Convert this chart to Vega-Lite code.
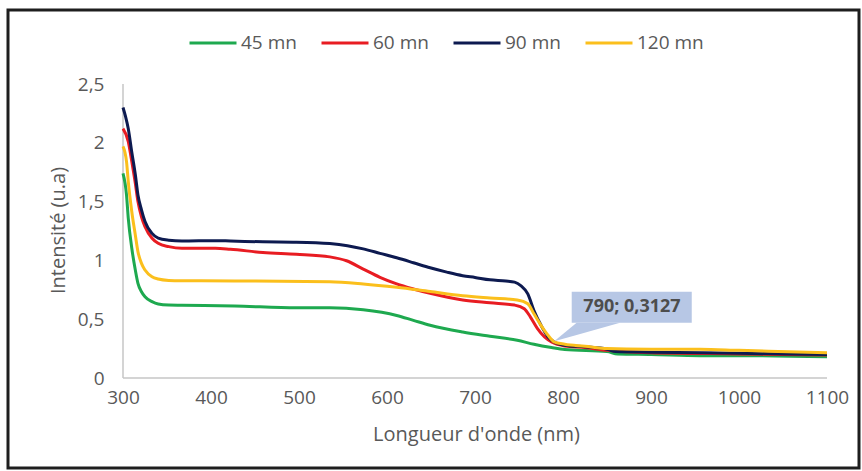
{
  "$schema": "https://vega.github.io/schema/vega-lite/v6.json",
  "autosize": {"type": "none"},
  "padding": {"left": 8, "top": 10, "right": 3, "bottom": 3},
  "width": 851,
  "height": 458,
  "background": "white",
  "config": {
    "view": {"stroke": "#1e1e1e", "strokeWidth": 3},
    "font": "Open Sans",
    "axis": {"grid": false, "ticks": false, "domain": false, "labelColor": "#595959", "titleColor": "#595959", "labelFont": "Open Sans", "titleFont": "Open Sans", "labelFontSize": 19, "titleFontSize": 20, "titleFontWeight": "normal"},
    "legend": {"labelFont": "Open Sans", "labelFontSize": 19, "labelColor": "#595959"}
  },
  "encoding": {
    "x": {"field": "x", "type": "quantitative", "scale": {"domain": [169.32, 1136.36], "nice": false, "zero": false},
      "axis": {"orient": "bottom", "offset": -90, "values": [300, 400, 500, 600, 700, 800, 900, 1000, 1100], "format": "d", "labelPadding": 10, "title": "Longueur d'onde (nm)", "titleX": 468, "titleY": 46, "titleBaseline": "top", "titleAnchor": "middle", "titleAlign": "center"}},
    "y": {"field": "y", "type": "quantitative", "scale": {"domain": [-0.7653, 3.1293], "nice": false, "zero": false},
      "axis": {"orient": "left", "offset": -115, "values": [0, 0.5, 1, 1.5, 2, 2.5], "labelExpr": "replace(format(datum.value, '~g'), '.', ',')", "labelPadding": 19, "labelBaseline": "middle", "title": "Intensité (u.a)", "titleX": -65, "titleY": 220, "titleAngle": -90, "titleBaseline": "middle", "titleAlign": "center"}}
  },
  "layer": [
    {
      "data": {"values": [
        {"x": 300, "y": 0, "x2": 1100, "y2": 0},
        {"x": 300, "y": 0, "x2": 300, "y2": 2.5}
      ]},
      "mark": {"type": "rule", "color": "#c6c6c6", "strokeWidth": 1.5},
      "encoding": {"x2": {"field": "x2"}, "y2": {"field": "y2"}}
    },
    {
      "data": {"values": [
        {"s": "45 mn", "x": 300, "y": 1.74}, {"s": "45 mn", "x": 304, "y": 1.556}, {"s": "45 mn", "x": 306, "y": 1.358}, {"s": "45 mn", "x": 310, "y": 1.103}, {"s": "45 mn", "x": 314, "y": 0.918}, {"s": "45 mn", "x": 317, "y": 0.805}, {"s": "45 mn", "x": 321, "y": 0.734}, {"s": "45 mn", "x": 325, "y": 0.691}, {"s": "45 mn", "x": 333, "y": 0.649}, {"s": "45 mn", "x": 340, "y": 0.629}, {"s": "45 mn", "x": 352, "y": 0.62}, {"s": "45 mn", "x": 367, "y": 0.618}, {"s": "45 mn", "x": 427, "y": 0.612}, {"s": "45 mn", "x": 497, "y": 0.597}, {"s": "45 mn", "x": 535, "y": 0.597}, {"s": "45 mn", "x": 573, "y": 0.58}, {"s": "45 mn", "x": 611, "y": 0.532}, {"s": "45 mn", "x": 630, "y": 0.49}, {"s": "45 mn", "x": 649, "y": 0.448}, {"s": "45 mn", "x": 686, "y": 0.391}, {"s": "45 mn", "x": 717, "y": 0.355}, {"s": "45 mn", "x": 748, "y": 0.321}, {"s": "45 mn", "x": 767, "y": 0.287}, {"s": "45 mn", "x": 787, "y": 0.259}, {"s": "45 mn", "x": 802, "y": 0.242}, {"s": "45 mn", "x": 850, "y": 0.225}, {"s": "45 mn", "x": 862, "y": 0.205}, {"s": "45 mn", "x": 900, "y": 0.2}, {"s": "45 mn", "x": 956, "y": 0.19}, {"s": "45 mn", "x": 1000, "y": 0.19}, {"s": "45 mn", "x": 1100, "y": 0.18},
        {"s": "60 mn", "x": 300, "y": 2.12}, {"s": "60 mn", "x": 306, "y": 2.01}, {"s": "60 mn", "x": 310, "y": 1.84}, {"s": "60 mn", "x": 314, "y": 1.655}, {"s": "60 mn", "x": 317, "y": 1.5}, {"s": "60 mn", "x": 321, "y": 1.37}, {"s": "60 mn", "x": 325, "y": 1.287}, {"s": "60 mn", "x": 333, "y": 1.188}, {"s": "60 mn", "x": 340, "y": 1.145}, {"s": "60 mn", "x": 352, "y": 1.117}, {"s": "60 mn", "x": 367, "y": 1.103}, {"s": "60 mn", "x": 405, "y": 1.103}, {"s": "60 mn", "x": 422, "y": 1.095}, {"s": "60 mn", "x": 459, "y": 1.067}, {"s": "60 mn", "x": 497, "y": 1.053}, {"s": "60 mn", "x": 535, "y": 1.03}, {"s": "60 mn", "x": 554, "y": 0.997}, {"s": "60 mn", "x": 573, "y": 0.926}, {"s": "60 mn", "x": 592, "y": 0.856}, {"s": "60 mn", "x": 611, "y": 0.8}, {"s": "60 mn", "x": 630, "y": 0.757}, {"s": "60 mn", "x": 649, "y": 0.72}, {"s": "60 mn", "x": 686, "y": 0.664}, {"s": "60 mn", "x": 717, "y": 0.64}, {"s": "60 mn", "x": 745, "y": 0.62}, {"s": "60 mn", "x": 756, "y": 0.589}, {"s": "60 mn", "x": 763, "y": 0.518}, {"s": "60 mn", "x": 771, "y": 0.42}, {"s": "60 mn", "x": 779, "y": 0.349}, {"s": "60 mn", "x": 787, "y": 0.307}, {"s": "60 mn", "x": 802, "y": 0.273}, {"s": "60 mn", "x": 825, "y": 0.259}, {"s": "60 mn", "x": 850, "y": 0.235}, {"s": "60 mn", "x": 900, "y": 0.215}, {"s": "60 mn", "x": 1000, "y": 0.205}, {"s": "60 mn", "x": 1100, "y": 0.195},
        {"s": "90 mn", "x": 300, "y": 2.3}, {"s": "90 mn", "x": 303, "y": 2.22}, {"s": "90 mn", "x": 306, "y": 2.12}, {"s": "90 mn", "x": 310, "y": 1.92}, {"s": "90 mn", "x": 314, "y": 1.73}, {"s": "90 mn", "x": 317, "y": 1.556}, {"s": "90 mn", "x": 321, "y": 1.43}, {"s": "90 mn", "x": 325, "y": 1.33}, {"s": "90 mn", "x": 333, "y": 1.23}, {"s": "90 mn", "x": 340, "y": 1.19}, {"s": "90 mn", "x": 352, "y": 1.172}, {"s": "90 mn", "x": 367, "y": 1.165}, {"s": "90 mn", "x": 405, "y": 1.168}, {"s": "90 mn", "x": 422, "y": 1.165}, {"s": "90 mn", "x": 459, "y": 1.158}, {"s": "90 mn", "x": 497, "y": 1.155}, {"s": "90 mn", "x": 535, "y": 1.143}, {"s": "90 mn", "x": 555, "y": 1.125}, {"s": "90 mn", "x": 573, "y": 1.098}, {"s": "90 mn", "x": 592, "y": 1.06}, {"s": "90 mn", "x": 611, "y": 1.022}, {"s": "90 mn", "x": 630, "y": 0.98}, {"s": "90 mn", "x": 649, "y": 0.937}, {"s": "90 mn", "x": 668, "y": 0.9}, {"s": "90 mn", "x": 686, "y": 0.87}, {"s": "90 mn", "x": 700, "y": 0.855}, {"s": "90 mn", "x": 717, "y": 0.835}, {"s": "90 mn", "x": 735, "y": 0.825}, {"s": "90 mn", "x": 745, "y": 0.815}, {"s": "90 mn", "x": 752, "y": 0.786}, {"s": "90 mn", "x": 760, "y": 0.715}, {"s": "90 mn", "x": 767, "y": 0.574}, {"s": "90 mn", "x": 775, "y": 0.448}, {"s": "90 mn", "x": 783, "y": 0.349}, {"s": "90 mn", "x": 790, "y": 0.307}, {"s": "90 mn", "x": 802, "y": 0.279}, {"s": "90 mn", "x": 825, "y": 0.265}, {"s": "90 mn", "x": 850, "y": 0.245}, {"s": "90 mn", "x": 860, "y": 0.225}, {"s": "90 mn", "x": 900, "y": 0.22}, {"s": "90 mn", "x": 1000, "y": 0.21}, {"s": "90 mn", "x": 1100, "y": 0.2},
        {"s": "120 mn", "x": 300, "y": 1.97}, {"s": "120 mn", "x": 304, "y": 1.84}, {"s": "120 mn", "x": 306, "y": 1.67}, {"s": "120 mn", "x": 310, "y": 1.414}, {"s": "120 mn", "x": 314, "y": 1.216}, {"s": "120 mn", "x": 317, "y": 1.074}, {"s": "120 mn", "x": 321, "y": 0.975}, {"s": "120 mn", "x": 325, "y": 0.918}, {"s": "120 mn", "x": 333, "y": 0.861}, {"s": "120 mn", "x": 340, "y": 0.842}, {"s": "120 mn", "x": 352, "y": 0.83}, {"s": "120 mn", "x": 367, "y": 0.827}, {"s": "120 mn", "x": 427, "y": 0.825}, {"s": "120 mn", "x": 535, "y": 0.819}, {"s": "120 mn", "x": 573, "y": 0.8}, {"s": "120 mn", "x": 611, "y": 0.771}, {"s": "120 mn", "x": 649, "y": 0.735}, {"s": "120 mn", "x": 686, "y": 0.7}, {"s": "120 mn", "x": 717, "y": 0.681}, {"s": "120 mn", "x": 748, "y": 0.664}, {"s": "120 mn", "x": 760, "y": 0.631}, {"s": "120 mn", "x": 767, "y": 0.546}, {"s": "120 mn", "x": 775, "y": 0.448}, {"s": "120 mn", "x": 783, "y": 0.363}, {"s": "120 mn", "x": 790, "y": 0.307}, {"s": "120 mn", "x": 802, "y": 0.287}, {"s": "120 mn", "x": 825, "y": 0.27}, {"s": "120 mn", "x": 850, "y": 0.25}, {"s": "120 mn", "x": 900, "y": 0.245}, {"s": "120 mn", "x": 956, "y": 0.244}, {"s": "120 mn", "x": 1000, "y": 0.235}, {"s": "120 mn", "x": 1100, "y": 0.215}
      ]},
      "mark": {"type": "line", "strokeWidth": 3, "interpolate": "monotone"},
      "encoding": {
        "color": {"field": "s", "type": "nominal", "title": null,
          "scale": {"domain": ["45 mn", "60 mn", "90 mn", "120 mn"], "range": ["#1ea94f", "#e81c22", "#0d1a50", "#fbbf1c"]},
          "legend": {"orient": "none", "direction": "horizontal", "legendX": 180, "legendY": 8, "symbolType": "stroke", "symbolSize": 2209, "symbolStrokeWidth": 3, "labelOffset": 3, "columnPadding": 18, "padding": 0}}
      }
    },
    {
      "data": {"values": [
        {"x": 790, "y": 0.3127, "y2": 0.3127},
        {"x": 815.5, "y": 0.47, "y2": 0.3663},
        {"x": 864.8, "y": 0.47, "y2": 0.47}
      ]},
      "mark": {"type": "area", "color": "#b7c7e5", "interpolate": "linear"},
      "encoding": {"y2": {"field": "y2"}}
    },
    {
      "data": {"values": [{"x": 809.9, "x2": 946.3, "y": 0.734, "y2": 0.47}]},
      "mark": {"type": "rect", "color": "#b7c7e5"},
      "encoding": {"x2": {"field": "x2"}, "y2": {"field": "y2"}}
    },
    {
      "data": {"values": [{"x": 878.4, "y": 0.604, "t": "790; 0,3127"}]},
      "mark": {"type": "text", "font": "Open Sans", "fontSize": 18, "fontWeight": "bold", "color": "#4d4d4d", "align": "center", "baseline": "middle"},
      "encoding": {"text": {"field": "t"}}
    }
  ]
}
